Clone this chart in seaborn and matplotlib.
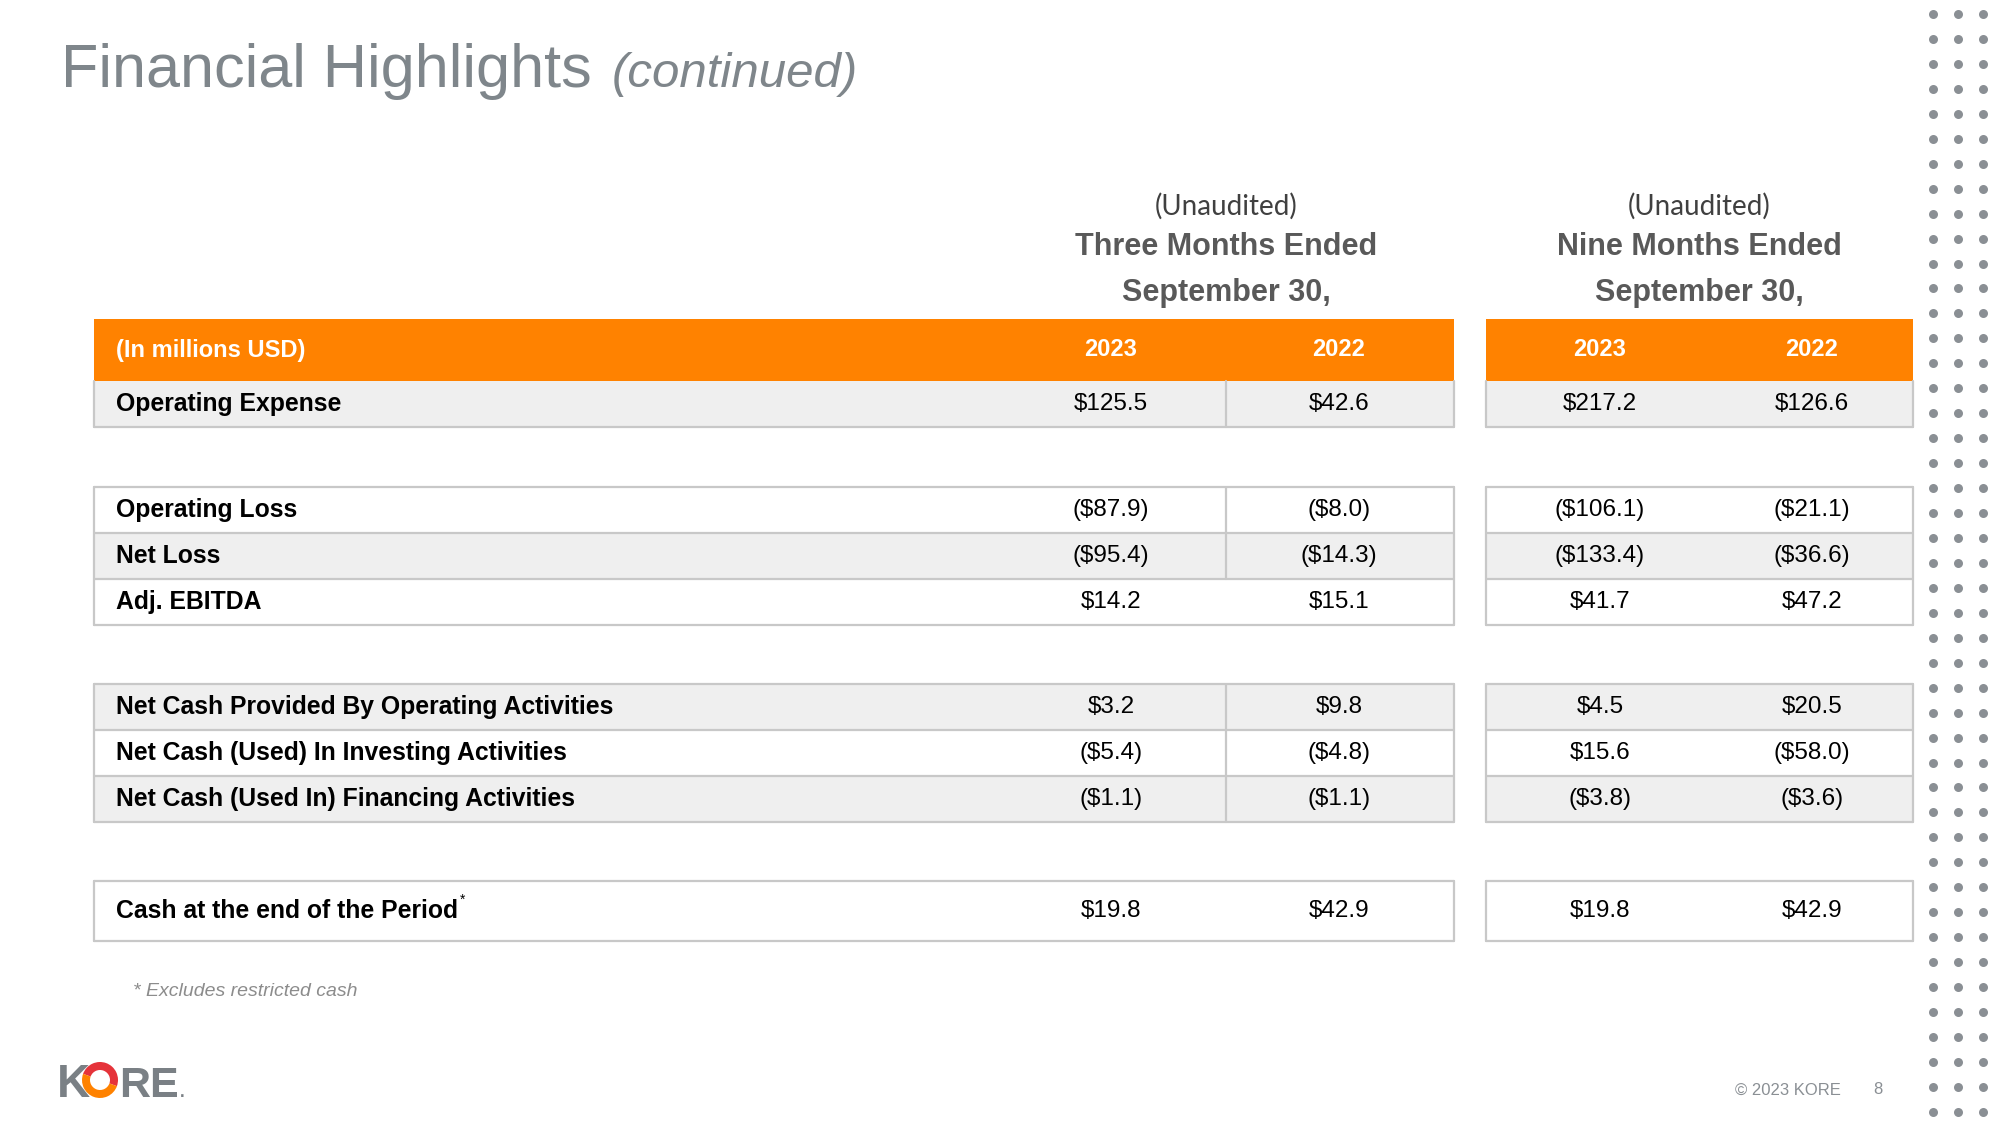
import numpy as np
import pandas as pd
import matplotlib.pyplot as plt
import seaborn as sns
from matplotlib.patches import Rectangle, Wedge

sns.set_theme(style="white")
plt.rcParams["font.family"] = ["Liberation Sans", "DejaVu Sans"]

# dados da tabela
row_labels = [
    "Operating Expense",
    "Operating Loss",
    "Net Loss",
    "Adj. EBITDA",
    "Net Cash Provided By Operating Activities",
    "Net Cash (Used) In Investing Activities",
    "Net Cash (Used In) Financing Activities",
    "Cash at the end of the Period",
]
three_2023 = ["$125.5", "($87.9)", "($95.4)", "$14.2", "$3.2", "($5.4)", "($1.1)", "$19.8"]
three_2022 = ["$42.6", "($8.0)", "($14.3)", "$15.1", "$9.8", "($4.8)", "($1.1)", "$42.9"]
nine_2023 = ["$217.2", "($106.1)", "($133.4)", "$41.7", "$4.5", "$15.6", "($3.8)", "$19.8"]
nine_2022 = ["$126.6", "($21.1)", "($36.6)", "$47.2", "$20.5", "($58.0)", "($3.6)", "$42.9"]
year_labels = ["2023", "2022"]
period_titles = ["Three Months Ended", "Nine Months Ended"]

# layout (pixels)
row_top = [381, 487, 533, 579, 684, 730, 776, 881]
row_h = [46, 46, 46, 46, 46, 46, 46, 60]
row_gray = [True, False, True, False, True, False, True, False]
row_divider = [True, True, True, False, True, True, True, False]
groups = [[0], [1, 2, 3], [4, 5, 6], [7]]
blocks = [(94, 1454), (1486, 1913)]
col_x = [1111, 1339, 1600, 1812]
divider_x = 1226

ORANGE = "#FF8200"
GRAY_FILL = "#EFEFEF"
BORDER = "#C8C8C8"
TITLE_GRAY = "#7F868B"

fig = plt.figure(figsize=(20, 11.25), dpi=100)
ax = fig.add_axes([0, 0, 1, 1])
ax.set_xlim(0, 2000)
ax.set_ylim(1125, 0)
ax.axis("off")


def right_edge(txt):
    fig.canvas.draw()
    bb = txt.get_window_extent(fig.canvas.get_renderer())
    return ax.transData.inverted().transform((bb.x1, bb.y0))[0]


# título
t = ax.text(61, 87, "Financial Highlights", fontsize=44, color=TITLE_GRAY, va="baseline")
ax.text(right_edge(t) + 20, 87, "(continued)", fontsize=35.5, color=TITLE_GRAY,
        style="italic", va="baseline")

# cabeçalho dos períodos
for (x0, x1), ttl in zip(blocks, period_titles):
    cx = divider_x if x0 == 94 else (x0 + x1) / 2
    ax.text(cx, 206, "(Unaudited)", fontsize=20, color="#404040", ha="center", va="center",
            family=["Lato", "DejaVu Sans"])
    ax.text(cx, 247, ttl, fontsize=22, color="#595959", ha="center", va="center", weight="bold")
    ax.text(cx, 293, "September 30,", fontsize=22, color="#595959", ha="center", va="center", weight="bold")
    ax.add_patch(Rectangle((x0, 319), x1 - x0, 62, color=ORANGE, lw=0, zorder=1))

ax.text(116, 350, "(In millions USD)", fontsize=17, color="white", weight="bold", va="center")
for i, cx in enumerate(col_x):
    ax.text(cx, 350, year_labels[i % 2], fontsize=17, color="white", weight="bold",
            ha="center", va="center")

# linhas da tabela
df = pd.DataFrame({
    "label": row_labels,
    "t23": three_2023, "t22": three_2022,
    "n23": nine_2023, "n22": nine_2022,
})

for i, r in df.iterrows():
    y0, h = row_top[i], row_h[i]
    yc = y0 + h / 2
    for (x0, x1) in blocks:
        if row_gray[i]:
            ax.add_patch(Rectangle((x0, y0), x1 - x0, h, color=GRAY_FILL, lw=0, zorder=1))
        ax.plot([x0, x1], [y0 + h, y0 + h], color=BORDER, lw=1.6, zorder=2)
    if row_divider[i]:
        ax.plot([divider_x, divider_x], [y0, y0 + h], color=BORDER, lw=1.6, zorder=2)
    lab = ax.text(116, yc, r["label"], fontsize=17.8, weight="bold", color="black", va="center")
    for cx, key in zip(col_x, ["t23", "t22", "n23", "n22"]):
        ax.text(cx, yc, r[key], fontsize=17.5, color="black", ha="center", va="center")
    if i == 7:
        ax.text(right_edge(lab) + 2, yc - 11, "*", fontsize=10, color="black", va="center")

# bordas dos grupos
for g in groups:
    top = row_top[g[0]]
    bottom = row_top[g[-1]] + row_h[g[-1]]
    for (x0, x1) in blocks:
        if g[0] != 0:
            ax.plot([x0, x1], [top, top], color=BORDER, lw=1.6, zorder=2)
        ax.plot([x0, x0], [top, bottom], color=BORDER, lw=1.6, zorder=2)
        ax.plot([x1, x1], [top, bottom], color=BORDER, lw=1.6, zorder=2)

# nota de rodapé
ax.text(133, 991, "* Excludes restricted cash", fontsize=14, style="italic", color="#8C8C8C", va="center")

# rodapé
ax.text(1735, 1090, "\u00a9 2023 KORE", fontsize=12, color="#8A8F94", va="center")
ax.text(1873, 1090, "8", fontsize=12, color="#8A8F94", va="center")

# logo KORE
LOGO_GRAY = "#7A8085"
ax.text(57, 1097, "K", fontsize=33, weight="bold", color=LOGO_GRAY, va="baseline")
ax.add_patch(Wedge((100, 1080), 18, 200, 20, width=8, color="#E5333A", lw=0, zorder=3))
ax.add_patch(Wedge((100, 1080), 18, 20, 200, width=8, color=ORANGE, lw=0, zorder=3))
re = ax.text(119, 1097, "RE", fontsize=31, weight="bold", color=LOGO_GRAY, va="baseline")
ax.text(right_edge(re) + 1, 1097, ".", fontsize=12, weight="bold", color=LOGO_GRAY, va="baseline")

# pontos decorativos
dot_cols = [1933, 1958, 1983]
dot_rows = [14 + 24.95 * k for k in range(45)]
dots = pd.DataFrame([(x, y) for y in dot_rows for x in dot_cols], columns=["x", "y"])
sns.scatterplot(data=dots, x="x", y="y", ax=ax, color="#8A8F94", s=42, linewidth=0, legend=False)
ax.set_xlim(0, 2000)
ax.set_ylim(1125, 0)
ax.axis("off")

plt.savefig("out.png", dpi=100)
plt.close()
